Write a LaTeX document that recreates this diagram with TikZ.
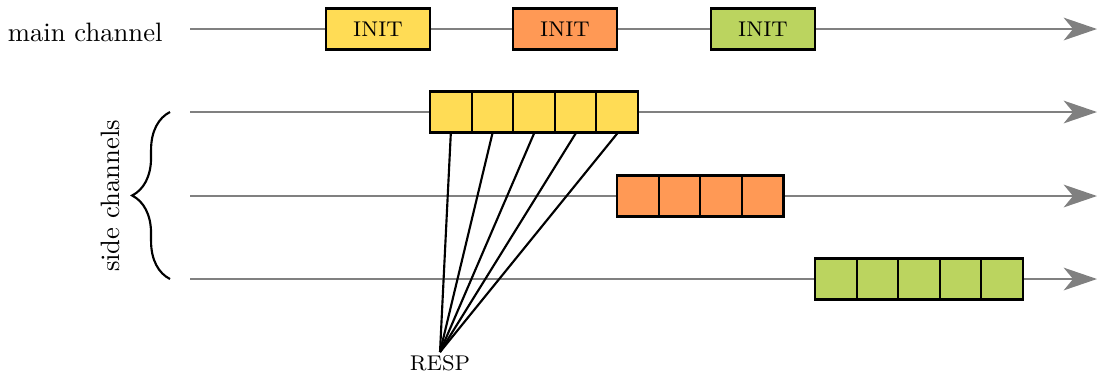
\documentclass[tikz,border=0pt]{standalone}
\usepackage{tikz}
\usetikzlibrary{arrows.meta}
\usetikzlibrary{positioning}
\usetikzlibrary{decorations.pathreplacing}
\definecolor{slotyellow}{RGB}{255,220,85}
\definecolor{slotorange}{RGB}{255,153,85}
\definecolor{slotgreen}{RGB}{187,212,95}
\tikzset{
    chan/.style = {gray, line width=0.9pt, -{Stealth[length=12.5pt,width=8.5pt,inset=3.5pt]}},
    initbox/.style = {rectangle, draw=black, thick, font=\footnotesize, minimum width=1.37cm, minimum height=0.54cm, inner sep=0pt},
    slotbox/.style = {rectangle, draw=black, thick, minimum width=0.55cm, minimum height=0.54cm, inner sep=0pt},
    resp/.style = {-, thick, black},
}
\begin{document}
\begin{tikzpicture}[x=0.0132cm, y=-0.0132cm]
\useasboundingbox (0,0) rectangle (1097,374);
% channels
\coordinate (m0) at (190,29);  \coordinate (m1) at (1097,29);
\coordinate (s0) at (190,112); \coordinate (s1) at (1097,112);
\coordinate (t0) at (190,196); \coordinate (t1) at (1097,196);
\coordinate (u0) at (190,279); \coordinate (u1) at (1097,279);
\draw[chan] (m0) -- (m1);
\draw[chan] (s0) -- (s1);
\draw[chan] (t0) -- (t1);
\draw[chan] (u0) -- (u1);
\node[anchor=east, inner sep=0pt] (mainlbl) at (163,32) {main channel};
%
\node[initbox, fill=slotyellow] (iy) at (378,29) {INIT};
\node[initbox, fill=slotorange] (io) at (565,29) {INIT};
\node[initbox, fill=slotgreen] (ig) at (763,29) {INIT};
%
\foreach \i in {1,...,5}
    \node[slotbox, fill=slotyellow] (y\i) at ({430+41.6*(\i-0.5)},112) {};
\foreach \i in {1,...,4}
    \node[slotbox, fill=slotorange] (o\i) at ({617+41.6*(\i-0.5)},196) {};
\foreach \i in {1,...,5}
    \node[slotbox, fill=slotgreen] (g\i) at ({815+41.6*(\i-0.5)},279) {};
%
\coordinate (r) at (440,352);
\node[font=\footnotesize, inner sep=1pt, below=0pt of r] (resplbl) {RESP};
\foreach \i in {1,...,5}
    \draw[resp] (y\i.south) -- (r);
%
\coordinate (b0) at (170,279);
\coordinate (b1) at (170,112);
\draw[thick, decorate, decoration={brace, amplitude=0.5cm}] (b0) -- (b1);
\node[rotate=90] (sidelbl) at (110,196) {side channels};
\end{tikzpicture}
\end{document}
